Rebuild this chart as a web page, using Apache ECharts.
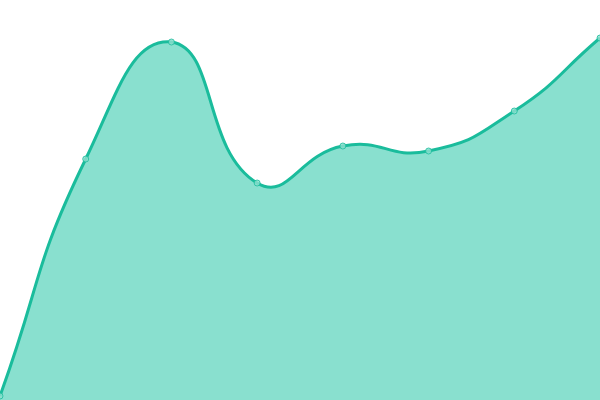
<!DOCTYPE html>
<html>
<head>
<meta charset="utf-8">
<script src="https://cdn.jsdelivr.net/npm/echarts@6/dist/echarts.min.js"></script>
<style>
  html, body { margin: 0; padding: 0; background: #fff; }
  #chart { width: 600px; height: 400px; }
</style>
</head>
<body>
<div id="chart"></div>
<script>
// 类目与数值
const categories = ["1", "2", "3", "4", "5", "6", "7", "8"];
const values = [4, 241, 358, 217, 254, 249, 289, 362];
const smoothness = 0.5;

// 平滑曲线：控制点只限制在整体包围盒内，允许越过相邻点（和参考图一致）
function buildCurve(pts) {
    const xs = pts.map((p) => p[0]);
    const ys = pts.map((p) => p[1]);
    const minX = Math.min(...xs), maxX = Math.max(...xs);
    const minY = Math.min(...ys), maxY = Math.max(...ys);
    const clamp = (v, a, b) => Math.max(a, Math.min(b, v));
    const cps = [];
    for (let i = 0; i < pts.length; i++) {
        const p = pts[i];
        const prev = pts[i - 1] || p;
        const next = pts[i + 1] || p;
        const vx = (next[0] - prev[0]) * smoothness;
        const vy = (next[1] - prev[1]) * smoothness;
        let d0 = Math.hypot(p[0] - prev[0], p[1] - prev[1]);
        let d1 = Math.hypot(p[0] - next[0], p[1] - next[1]);
        const sum = d0 + d1;
        if (sum !== 0) { d0 /= sum; d1 /= sum; }
        cps.push([clamp(p[0] - vx * d0, minX, maxX), clamp(p[1] - vy * d0, minY, maxY)]);
        cps.push([clamp(p[0] + vx * d1, minX, maxX), clamp(p[1] + vy * d1, minY, maxY)]);
    }
    let d = "M" + pts[0][0] + " " + pts[0][1];
    for (let i = 0; i < pts.length - 1; i++) {
        const a = cps[2 * i + 1], b = cps[2 * i + 2], p = pts[i + 1];
        d += " C" + a[0] + " " + a[1] + " " + b[0] + " " + b[1] + " " + p[0] + " " + p[1];
    }
    return d;
}

const chart = echarts.init(document.getElementById("chart"));
chart.setOption({
    animation: false,
    grid: { left: 0, right: 0, top: 0, bottom: 0 },
    xAxis: {
        type: "category",
        data: categories,
        boundaryGap: false,
        show: false,
    },
    yAxis: {
        type: "value",
        min: 0,
        max: 400,
        show: false,
    },
    series: [
        {
            type: "custom",
            data: values,
            renderItem: (params, api) => {
                if (params.dataIndex !== 0) return null;
                const pts = values.map((v, i) => api.coord([i, v]));
                const curve = buildCurve(pts);
                const base = api.coord([0, 0])[1];
                const last = pts[pts.length - 1];
                const area = curve + " L" + last[0] + " " + base + " L" + pts[0][0] + " " + base + " Z";
                return {
                    type: "group",
                    children: [
                        {
                            type: "path",
                            shape: { pathData: area },
                            style: { fill: "#89e0cf", stroke: null },
                        },
                        {
                            type: "path",
                            shape: { pathData: curve },
                            style: { fill: null, stroke: "#1abc9c", lineWidth: 3 },
                        },
                    ],
                };
            },
        },
        {
            type: "scatter",
            data: values,
            symbol: "circle",
            symbolSize: 6,
            itemStyle: { color: "#8fe0d0", borderColor: "#1abc9c", borderWidth: 1 },
            z: 3,
        },
    ],
});
</script>
</body>
</html>
